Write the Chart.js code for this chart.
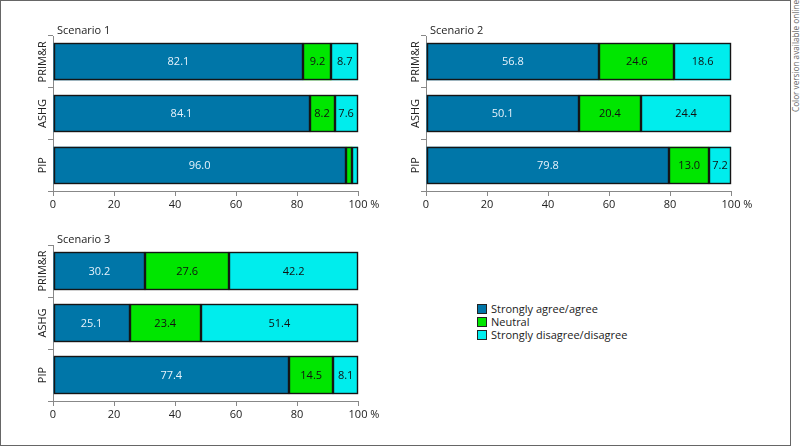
<!DOCTYPE html>
<html><head><meta charset="utf-8">
<script src="https://cdn.jsdelivr.net/npm/chart.js@4.4.0/dist/chart.umd.min.js"></script>
<style>
html,body{margin:0;padding:0;background:#fff;}
body{width:800px;height:447px;position:relative;overflow:hidden;font-family:'Open Sans',sans-serif;}
.frame{position:absolute;left:0;top:0;width:791px;height:446px;box-sizing:border-box;border:1px solid #666;}
.wrap{position:absolute;}
.title{position:absolute;font-size:11px;color:#222;line-height:14px;white-space:nowrap;}
.note{position:absolute;left:796px;top:56px;font-size:8.2px;color:#666;white-space:nowrap;transform:translate(-50%,-50%) rotate(-90deg);line-height:10px;}
.legend{position:absolute;left:477px;top:302px;font-size:11px;color:#222;line-height:13px;}
.legend div{white-space:nowrap;}
.legend span{display:inline-block;width:8px;height:8px;border:1px solid #222;vertical-align:middle;margin-right:4px;position:relative;top:-1px;}
</style>
</head><body>
<div class="frame"></div>
<div class="note">Color version available online</div>
<div class="wrap" style="left:0;top:0;width:400px;height:220px;"><canvas id="c1"></canvas></div>
<div class="wrap" style="left:400px;top:0;width:390px;height:220px;"><canvas id="c2"></canvas></div>
<div class="wrap" style="left:0;top:220px;width:400px;height:227px;"><canvas id="c3"></canvas></div>
<div class="title" style="left:57px;top:23px;">Scenario 1</div>
<div class="title" style="left:430px;top:23px;">Scenario 2</div>
<div class="title" style="left:57px;top:232px;">Scenario 3</div>
<div class="legend">
  <div><span style="background:#0076a8"></span>Strongly agree/agree</div>
  <div><span style="background:#00e600"></span>Neutral</div>
  <div><span style="background:#00eded"></span>Strongly disagree/disagree</div>
</div>
<script>
// ---- data ----
const categories = ['PRIM&R', 'ASHG', 'PIP'];
const seriesNames = ['Strongly agree/agree', 'Neutral', 'Strongly disagree/disagree'];
const s1Agree = [82.1, 84.1, 96.0];
const s1Neutral = [9.2, 8.2, 2.0];
const s1Disagree = [8.7, 7.6, 2.0];
const s2Agree = [56.8, 50.1, 79.8];
const s2Neutral = [24.6, 20.4, 13.0];
const s2Disagree = [18.6, 29.5, 7.2];
const s2DisagreePrinted = ['18.6', '24.4', '7.2']; // as printed in the figure
const s3Agree = [30.2, 25.1, 77.4];
const s3Neutral = [27.6, 23.4, 14.5];
const s3Disagree = [42.2, 51.4, 8.1];
const xTicks = [0, 20, 40, 60, 80, 100];

const COLORS = ['#0076a8', '#00e600', '#00eded'];
const TEXTCOL = ['#e6f2fb', '#111', '#111'];
const FONT = "'Open Sans', sans-serif";

const valueLabels = {
  id: 'valueLabels',
  afterDatasetsDraw(chart) {
    const ctx = chart.ctx;
    ctx.save();
    // crisp outlines around every bar segment
    ctx.strokeStyle = '#151515';
    ctx.lineWidth = 1.4;
    chart.data.datasets.forEach((ds, di) => {
      chart.getDatasetMeta(di).data.forEach((el) => {
        const x0 = Math.round(Math.min(el.x, el.base));
        const x1 = Math.round(Math.max(el.x, el.base));
        const y0 = Math.round(el.y - el.height / 2);
        const y1 = Math.round(el.y + el.height / 2);
        ctx.strokeRect(x0 + 0.5, y0 + 0.5, x1 - x0 - 1, y1 - y0 - 1);
      });
    });
    ctx.font = '11px ' + FONT;
    ctx.textAlign = 'center';
    ctx.textBaseline = 'middle';
    chart.data.datasets.forEach((ds, di) => {
      const meta = chart.getDatasetMeta(di);
      meta.data.forEach((el, i) => {
        const v = ds.data[i];
        if (v < 5) return;
        const txt = ds.printed ? ds.printed[i] : v.toFixed(1);
        ctx.fillStyle = TEXTCOL[di];
        ctx.fillText(txt, (el.x + el.base) / 2, el.y + 0.5);
      });
    });
    ctx.restore();
  }
};

const axisExtras = {
  id: 'axisExtras',
  afterDraw(chart) {
    const ctx = chart.ctx;
    const ys = chart.scales.y, xs = chart.scales.x;
    ctx.save();
    ctx.font = '11px ' + FONT;
    ctx.fillStyle = '#222';
    ctx.textAlign = 'center';
    ctx.textBaseline = 'middle';
    categories.forEach((c, i) => {
      const y = ys.getPixelForTick(i);
      ctx.save();
      ctx.translate(ys.right - 10.5, y);
      ctx.rotate(-Math.PI / 2);
      ctx.fillText(c, 0, 0);
      ctx.restore();
    });
    // " %" after the 100 label
    const x100 = xs.getPixelForValue(100);
    const w = ctx.measureText('100').width;
    ctx.textAlign = 'left';
    const ly = chart.chartArea.bottom + 5 + 2 + 7;
    ctx.fillText(' %', x100 + w / 2, ly);
    ctx.restore();
  }
};

function makeChart(id, vals, geom, printed) {
  const cv = document.getElementById(id);
  const datasets = vals.map((d, k) => ({
    label: seriesNames[k],
    data: d,
    backgroundColor: COLORS[k],
    borderWidth: 0,
    inflateAmount: 0,
    barPercentage: 0.715,
    categoryPercentage: 1.0,
    printed: (printed && printed[k]) || null
  }));
  return new Chart(cv, {
    type: 'bar',
    data: { labels: categories, datasets },
    options: {
      indexAxis: 'y',
      responsive: true,
      maintainAspectRatio: false,
      animation: false,
      layout: { padding: { left: 0, top: geom.top, right: geom.right, bottom: geom.bottom } },
      plugins: { legend: { display: false }, tooltip: { enabled: false } },
      scales: {
        x: {
          stacked: true, min: 0, max: 100,
          afterBuildTicks(s) { s.ticks = xTicks.map(v => ({ value: v })); },
          afterFit(s) { s.height = 28; },
          grid: { drawOnChartArea: false, drawTicks: true, tickLength: 5, color: '#888', lineWidth: 1 },
          border: { color: '#888', width: 1 },
          ticks: { font: { family: FONT, size: 11 }, color: '#222', padding: 2, maxRotation: 0 }
        },
        y: {
          stacked: true,
          afterFit(s) { s.width = geom.left; },
          grid: { drawOnChartArea: false, drawTicks: true, tickLength: 5, color: '#888', offset: true },
          border: { color: '#888', width: 1 },
          ticks: { display: false }
        }
      }
    },
    plugins: [valueLabels, axisExtras]
  });
}

makeChart('c1', [s1Agree, s1Neutral, s1Disagree], { left: 53, top: 36, right: 42, bottom: 1 });
makeChart('c2', [s2Agree, s2Neutral, s2Disagree], { left: 26, top: 36, right: 59, bottom: 1 }, [null, null, s2DisagreePrinted]);
makeChart('c3', [s3Agree, s3Neutral, s3Disagree], { left: 53, top: 25, right: 42, bottom: 18 });
</script>
</body></html>
